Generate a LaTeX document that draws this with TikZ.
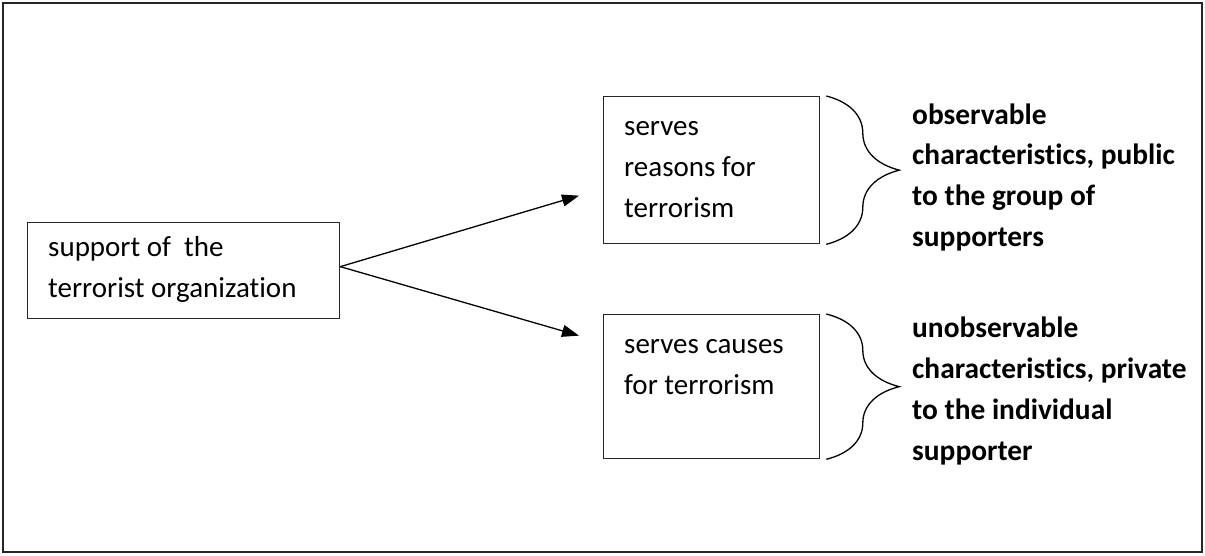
\documentclass[tikz,border=0pt]{standalone}
\usepackage{fontspec}
\setmainfont{Carlito}[Ligatures=NoCommon]
\usetikzlibrary{decorations.pathreplacing,arrows.meta}
\begin{document}
\begin{tikzpicture}[x=1pt,y=-1pt,
  box/.style={draw=black!85, line width=1.3pt, inner sep=0pt, anchor=north west},
  txt/.style={anchor=base west, align=left, inner sep=0pt, font=\fontsize{29}{41}\selectfont},
  btxt/.style={anchor=base west, align=left, inner sep=0pt, font=\fontsize{29.4}{41}\selectfont\bfseries},
  conn/.style={line width=1.3pt, -{Triangle[length=17pt,width=12pt]}},
  brc/.style={decorate, decoration={brace, amplitude=73pt, aspect=#1}, line width=1.3pt},
]
\useasboundingbox (0,0) rectangle (1205,556);
\draw[line width=2pt, black!85] (3,3) rectangle (1202,552);
\node[box, minimum width=312pt, minimum height=96pt] (lb) at (27,222) {};
\node[box, minimum width=216pt, minimum height=147pt] (ub) at (603,96) {};
\node[box, minimum width=216pt, minimum height=144pt] (lo) at (603,314) {};
% base anchor = baseline of the last line
\node[txt] (lt) at (48,298) {support of\ \ the\\terrorist organization};
\node[txt] (ut) at (624,218) {serves\\reasons for\\terrorism};
\node[txt] (dt) at (624,394) {serves causes\\for terrorism};
\node[btxt] (ur) at (912,247) {observable\\characteristics, public\\to the group of\\supporters};
\node[btxt] (dr) at (912,460) {unobservable\\characteristics, private\\to the individual\\supporter};
\draw[brc=0.5] ([xshift=6pt]ub.north east) -- ([xshift=6pt]ub.south east);
\draw[brc=0.5] ([xshift=6pt]lo.north east) -- ([xshift=6pt]lo.south east);
\draw[conn] ([yshift=4pt]lb.east) -- ([xshift=-24pt,yshift=-25.5pt]ub.west);
\draw[conn] ([yshift=4pt]lb.east) -- ([xshift=-24pt,yshift=51pt]lo.west);
\end{tikzpicture}
\end{document}
